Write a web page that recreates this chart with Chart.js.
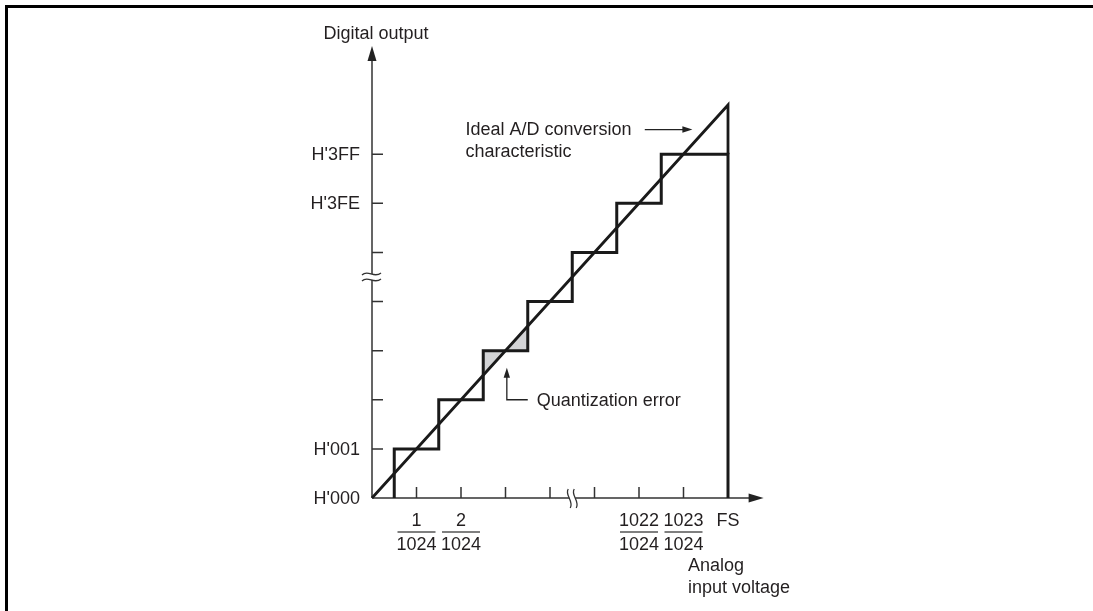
<!DOCTYPE html>
<html>
<head>
<meta charset="utf-8">
<script src="https://cdn.jsdelivr.net/npm/chart.js@4.4.1/dist/chart.umd.min.js"></script>
<style>
  html, body { margin: 0; padding: 0; background: #fff; }
  canvas { display: block; }
</style>
</head>
<body>
<canvas id="adc" width="1093" height="611"></canvas>
<script>
// staircase corners: analog input (in LSB) vs digital code step
const stairX = [0.5, 0.5, 1.5, 1.5, 2.5, 2.5, 3.5, 3.5, 4.5, 4.5, 5.5, 5.5, 6.5, 6.5, 8, 8];
const stairY = [0, 1, 1, 2, 2, 3, 3, 4, 4, 5, 5, 6, 6, 7, 7, 0];

// ideal conversion line, ends on the FS line
const idealX = [0, 8, 8];
const idealY = [0, 8, 7];

// shaded quantization error triangles
const errAX = [2.5, 2.5, 3, 2.5];
const errAY = [2.5, 3, 3, 2.5];
const errBX = [3, 3.5, 3.5, 3];
const errBY = [3, 3, 3.5, 3];

// axes
const yTicks = [1, 2, 3, 4, 5, 6, 7];
const yLabelVals = [0, 1, 6, 7];
const yLabelText = ["H'000", "H'001", "H'3FE", "H'3FF"];
const xTicks = [1, 2, 3, 4, 5, 6, 7];
const xLabelVals = [1, 2, 6, 7];
const xLabelNum = ['1', '2', '1022', '1023'];
const xLabelDen = '1024';
const fsVal = 8;
const breakVal = 4.5;
const axisEndX = 8.8;
const axisTopY = 9.2;

const FONT = '18px "Liberation Sans", Arial, sans-serif';
const TXT = '#231f20';

const pts = (xs, ys) => xs.map((x, i) => ({ x, y: ys[i] }));

function arrowHead(ctx, tx, ty, dx, dy, len, half) {
  // dx,dy: unit direction the arrow points to
  const bx = tx - dx * len, by = ty - dy * len;
  ctx.beginPath();
  ctx.moveTo(tx, ty);
  ctx.lineTo(bx - dy * half, by + dx * half);
  ctx.lineTo(bx + dy * half, by - dx * half);
  ctx.closePath();
  ctx.fill();
}

const decor = {
  id: 'decor',
  beforeDatasetsDraw(chart) {
    const { ctx, scales: { x, y } } = chart;
    const X = v => x.getPixelForValue(v), Y = v => y.getPixelForValue(v);
    const ox = X(0), oy = Y(0);
    ctx.save();

    // frame
    ctx.strokeStyle = '#000';
    ctx.lineWidth = 3;
    ctx.beginPath();
    ctx.moveTo(6.5, 700); ctx.lineTo(6.5, 6.5); ctx.lineTo(1200, 6.5);
    ctx.stroke();

    // axes
    ctx.strokeStyle = '#333';
    ctx.fillStyle = '#222';
    ctx.lineWidth = 1.5;
    ctx.beginPath();
    ctx.moveTo(ox, oy); ctx.lineTo(ox, Y(axisTopY) + 10);
    ctx.moveTo(ox, oy); ctx.lineTo(X(axisEndX) - 10, oy);
    ctx.stroke();
    arrowHead(ctx, ox, Y(axisTopY), 0, -1, 15, 4.5);
    arrowHead(ctx, X(axisEndX), oy, 1, 0, 15, 4.5);

    // ticks
    ctx.beginPath();
    yTicks.forEach(v => { ctx.moveTo(ox, Y(v)); ctx.lineTo(ox + 11, Y(v)); });
    xTicks.forEach(v => { ctx.moveTo(X(v), oy); ctx.lineTo(X(v), oy - 11); });
    ctx.stroke();

    // axis breaks
    const by = Y(breakVal), bx = X(breakVal);
    ctx.fillStyle = '#fff';
    ctx.fillRect(ox - 2, by - 3, 4, 6);
    ctx.fillRect(bx - 3, oy - 2, 6, 4);
    ctx.lineWidth = 1.3;
    ctx.beginPath();
    [-3, 3].forEach(d => {
      ctx.moveTo(ox - 10, by + d + 1);
      ctx.bezierCurveTo(ox - 4, by + d - 5, ox + 2, by + d + 5, ox + 9, by + d - 1);
      ctx.moveTo(bx + d - 1, oy - 9);
      ctx.bezierCurveTo(bx + d - 5, oy - 3, bx + d + 5, oy + 3, bx + d + 1, oy + 10);
    });
    ctx.stroke();
    ctx.restore();
  },
  afterDraw(chart) {
    const { ctx, scales: { x, y } } = chart;
    const X = v => x.getPixelForValue(v), Y = v => y.getPixelForValue(v);
    const ox = X(0), oy = Y(0);
    ctx.save();
    ctx.font = FONT;
    ctx.fillStyle = TXT;
    ctx.textBaseline = 'middle';

    // y labels
    ctx.textAlign = 'right';
    yLabelVals.forEach((v, i) => ctx.fillText(yLabelText[i], ox - 12, Y(v) + 1));

    // axis titles
    ctx.textAlign = 'center';
    ctx.fillText('Digital output', ox + 4, Y(axisTopY) - 12);

    // x fraction labels
    ctx.strokeStyle = '#555';
    ctx.lineWidth = 1.5;
    xLabelVals.forEach((v, i) => {
      const cx = X(v);
      ctx.fillText(xLabelNum[i], cx, oy + 23);
      ctx.fillText(xLabelDen, cx, oy + 47);
      ctx.beginPath();
      ctx.moveTo(cx - 19, oy + 34); ctx.lineTo(cx + 19, oy + 34);
      ctx.stroke();
    });
    ctx.fillText('FS', X(fsVal), oy + 23);
    ctx.textAlign = 'left';
    ctx.fillText('Analog', X(7.1), oy + 68);
    ctx.fillText('input voltage', X(7.1), oy + 90);

    // ideal line annotation
    ctx.fillText('Ideal A/D conversion', X(2.1), Y(7.5));
    ctx.fillText('characteristic', X(2.1), Y(7.04));
    ctx.strokeStyle = '#222';
    ctx.fillStyle = '#222';
    ctx.lineWidth = 1.3;
    ctx.beginPath();
    ctx.moveTo(X(6.13), Y(7.5)); ctx.lineTo(X(7.2) - 6, Y(7.5));
    ctx.stroke();
    arrowHead(ctx, X(7.2), Y(7.5), 1, 0, 10, 3.2);

    // quantization error annotation
    ctx.beginPath();
    ctx.moveTo(X(3.5), Y(2)); ctx.lineTo(X(3.03), Y(2)); ctx.lineTo(X(3.03), Y(2.65) + 6);
    ctx.stroke();
    arrowHead(ctx, X(3.03), Y(2.65), 0, -1, 10, 3.2);
    ctx.fillStyle = TXT;
    ctx.fillText('Quantization error', X(3.7), Y(2) + 1);
    ctx.restore();
  }
};

new Chart(document.getElementById('adc'), {
  type: 'scatter',
  data: {
    datasets: [
      { data: pts(stairX, stairY), showLine: true, borderColor: '#1a1a1a', borderWidth: 3,
        pointRadius: 0, borderJoinStyle: 'miter', clip: false, order: 1 },
      { data: pts(idealX, idealY), showLine: true, borderColor: '#1a1a1a', borderWidth: 2.8,
        pointRadius: 0, borderJoinStyle: 'miter', clip: false, order: 2 },
      { data: pts(errAX, errAY), showLine: true, borderWidth: 0, borderColor: 'rgba(0,0,0,0)',
        backgroundColor: '#d3d4d6', fill: 'shape', pointRadius: 0, clip: false, order: 3 },
      { data: pts(errBX, errBY), showLine: true, borderWidth: 0, borderColor: 'rgba(0,0,0,0)',
        backgroundColor: '#d3d4d6', fill: 'shape', pointRadius: 0, clip: false, order: 3 }
    ]
  },
  options: {
    responsive: false,
    animation: false,
    events: [],
    layout: { padding: { left: 372, right: 365, top: 105, bottom: 113 } },
    plugins: { legend: { display: false }, tooltip: { enabled: false } },
    scales: {
      x: { type: 'linear', min: 0, max: 8, display: false },
      y: { type: 'linear', min: 0, max: 8, display: false }
    }
  },
  plugins: [decor]
});
</script>
</body>
</html>
